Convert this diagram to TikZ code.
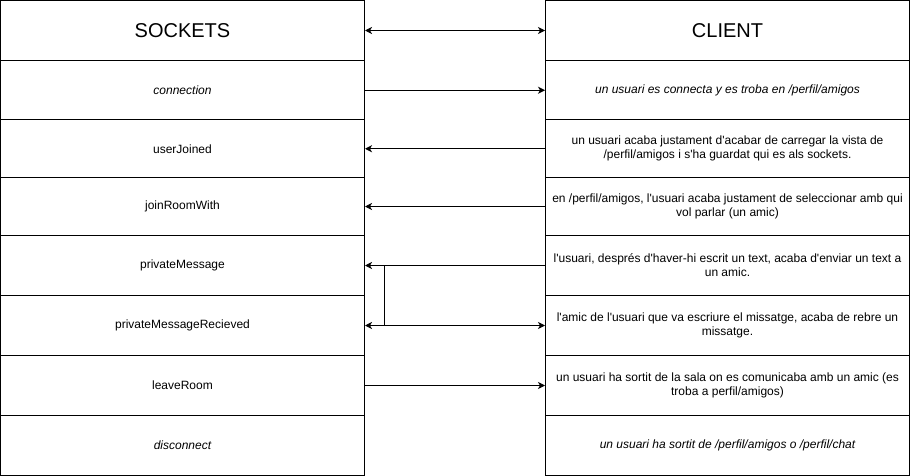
\documentclass[tikz,border=0pt]{standalone}
\usepackage{fontspec}
\newfontfamily\drawio{Liberation Sans}
\usetikzlibrary{arrows.meta}
\begin{document}
\begin{tikzpicture}[x=1pt,y=-1pt,line width=1pt,
    cell/.style={draw,rectangle,minimum width=364pt,inner sep=0pt,align=center,font=\drawio\fontsize{12}{14}\selectfont},
    head/.style={cell,minimum height=60pt,font=\drawio\fontsize{20}{24}\selectfont},
    msg/.style={-{Stealth[length=7pt,width=7pt,inset=2pt]}},
    both/.style={{Stealth[length=7pt,width=7pt,inset=2pt]}-{Stealth[length=7pt,width=7pt,inset=2pt]}}]
  \useasboundingbox (0,0) rectangle (910,476);
  % sockets side
  \draw
    (182.5,30.5) node[head] (sockets){SOCKETS}
    (182.5,90.25) node[cell,minimum height=59.5pt] (connection){\itshape connection}
    (182.5,148.75) node[cell,minimum height=57.5pt] (userJoined){userJoined}
    (182.5,206.5) node[cell,minimum height=58pt] (joinRoomWith){joinRoomWith}
    (182.5,265.5) node[cell,minimum height=60pt] (privateMessage){privateMessage}
    (182.5,325.5) node[cell,minimum height=60pt] (privateMessageRecieved){privateMessageRecieved}
    (182.5,385.5) node[cell,minimum height=60pt] (leaveRoom){leaveRoom}
    (182.5,445.5) node[cell,minimum height=60pt] (disconnect){\itshape disconnect};
  % client side
  \draw
    (727.5,30.5) node[head] (client){CLIENT}
    (727.5,90.25) node[cell,minimum height=59.5pt] (cConnection){\itshape un usuari es connecta y es troba en /perfil/amigos}
    (727.5,148.75) node[cell,minimum height=57.5pt] (cUserJoined){un usuari acaba justament d'acabar de carregar la vista de\\/perfil/amigos i s'ha guardat qui es als sockets.}
    (727.5,206.5) node[cell,minimum height=58pt] (cJoinRoomWith){en /perfil/amigos, l'usuari acaba justament de seleccionar amb qui\\vol parlar (un amic)}
    (727.5,265.5) node[cell,minimum height=60pt] (cPrivateMessage){l'usuari, després d'haver-hi escrit un text, acaba d'enviar un text a\\un amic.}
    (727.5,325.5) node[cell,minimum height=60pt] (cPrivateMessageRecieved){l'amic de l'usuari que va escriure el missatge, acaba de rebre un\\missatge.}
    (727.5,385.5) node[cell,minimum height=60pt] (cLeaveRoom){un usuari ha sortit de la sala on es comunicaba amb un amic (es\\troba a perfil/amigos)}
    (727.5,445.5) node[cell,minimum height=60pt] (cDisconnect){\itshape un usuari ha sortit de /perfil/amigos o /perfil/chat};
  \coordinate (split) at (384.5,265.5);
  \begin{scope}[msg]
    \draw[both] (sockets) -- (client);
    \draw (connection) -- (cConnection);
    \draw (cUserJoined) -- (userJoined);
    \draw (cJoinRoomWith) -- (joinRoomWith);
    \draw (cPrivateMessage) -- (privateMessage);
    \draw[both] (privateMessageRecieved) -- (cPrivateMessageRecieved);
    \draw (leaveRoom) -- (cLeaveRoom);
  \end{scope}
  \draw (split) -- (split |- privateMessageRecieved.east);
\end{tikzpicture}
\end{document}
